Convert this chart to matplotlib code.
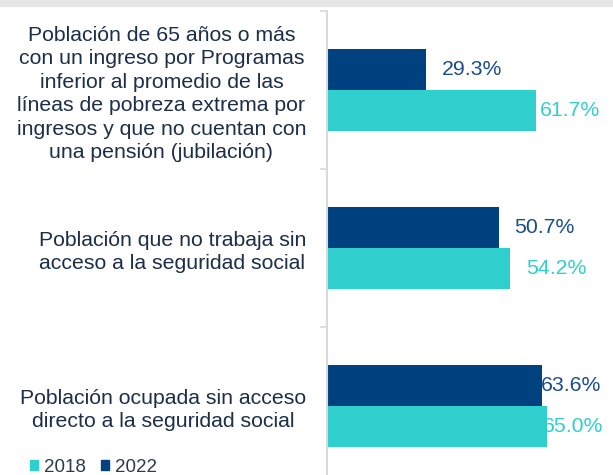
import matplotlib
matplotlib.use("Agg")
import matplotlib.pyplot as plt
from matplotlib.patches import Patch, Rectangle
import numpy as np

plt.rcParams['font.family'] = ['Liberation Sans', 'DejaVu Sans']

categories = [
    "Población de 65 años o más\ncon un ingreso por Programas\ninferior al promedio de las\nlíneas de pobreza extrema por\ningresos y que no cuentan con\nuna pensión (jubilación)",
    "Población que no trabaja sin\nacceso a la seguridad social",
    "Población ocupada sin acceso\ndirecto a la seguridad social",
]
series_names = ["2018", "2022"]
values_2018 = [61.7, 54.2, 65.0]
values_2022 = [29.3, 50.7, 63.6]
# horizontal offsets of the value labels from bar ends (data units)
label_off_2018 = [1.2, 4.6, -1.2]
label_off_2022 = [4.7, 4.5, -0.4]

c2018 = '#2ecfcd'
c2022 = '#004280'
txt = '#1c2e4a'

W, H = 613, 475
fig = plt.figure(figsize=(W / 100, H / 100), dpi=100)
fig.patches.append(Rectangle((0, 1 - 6 / H), 1, 6 / H, transform=fig.transFigure,
                             color='#e6e6e6', zorder=0))

ax = fig.add_axes([327 / W, 0, 1 - 327 / W, 1 - 11 / H])
pos = np.arange(len(categories))
bh = 0.26
ax.barh(pos - bh / 2, values_2022, height=bh, color=c2022, zorder=2)
ax.barh(pos + bh / 2, values_2018, height=bh, color=c2018, zorder=2)

for i in range(len(categories)):
    ax.text(values_2022[i] + label_off_2022[i], pos[i] - bh / 2, f"{values_2022[i]:.1f}%",
            ha='left', va='center', color='#1a4d8a', fontsize=15.3, zorder=3)
    ax.text(values_2018[i] + label_off_2018[i], pos[i] + bh / 2, f"{values_2018[i]:.1f}%",
            ha='left', va='center', color=c2018, fontsize=15.3, zorder=3)

ax.set_xlim(0, 84.5)
ax.set_ylim(2.437, -0.5)
ax.set_yticks(pos)
ax.set_yticklabels(categories, multialignment='center', color=txt, fontsize=15.3,
                   linespacing=1.3)
ax.tick_params(axis='y', which='major', length=0, pad=15)
ax.set_yticks([-0.5, 0.5, 1.5], minor=True)
ax.tick_params(axis='y', which='minor', length=5, width=1.2, color='#d9d9d9')
ax.set_xticks([])
for s in ['top', 'right', 'bottom']:
    ax.spines[s].set_visible(False)
ax.spines['left'].set_color('#d9d9d9')
ax.spines['left'].set_linewidth(1.5)

handles = [Patch(color=c2018), Patch(color=c2022)]
fig.legend(handles, series_names, loc='lower left', bbox_to_anchor=(0.021, -0.037),
           ncol=2, frameon=False, fontsize=13.5, handlelength=0.45, handleheight=0.45,
           handletextpad=0.3, columnspacing=0.8, labelcolor='#2b3a4f')

fig.savefig('out.png', dpi=100)
